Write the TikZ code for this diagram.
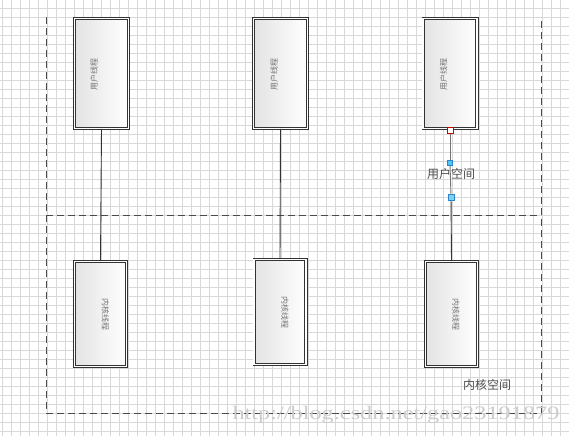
\documentclass[tikz,border=0pt]{standalone}
\usepackage{fontspec}
\setmainfont{Liberation Serif}
\newfontfamily\cjk{Noto Sans CJK SC}
\usetikzlibrary{shadows}
\definecolor{gridc}{HTML}{D8D8D8}
\definecolor{dashc}{HTML}{4A4A4A}
\definecolor{boxc}{HTML}{333333}
\definecolor{handlefill}{HTML}{7FD0F5}
\definecolor{handledraw}{HTML}{2A86CC}
\definecolor{smallfill}{HTML}{4CC6F2}
\pgfdeclarehorizontalshading{boxshade}{100bp}{color(0bp)=(black!11); color(25bp)=(black!11); color(75bp)=(white); color(100bp)=(white)}
\begin{document}
\begin{tikzpicture}[x=1pt,y=-1pt,
  gridline/.style={draw=gridc,line width=0.8pt},
  dashline/.style={draw=dashc,line width=0.95pt,dash pattern=on 7pt off 4pt},
  tbox/.style={draw=boxc,line width=0.9pt,double=white,double distance=1.4pt,
    shading=boxshade,shading angle=0,
    drop shadow={shadow xshift=1.6pt,shadow yshift=-1.6pt,fill=black!18},
    inner sep=0pt,minimum width=53.8pt,minimum height=109.8pt},
  kbox/.style={tbox,minimum width=51.8pt,minimum height=104.8pt},
  boxtext/.style={font=\cjk\fontsize{8}{8}\selectfont,text=black!55,inner sep=0pt},
  conn/.style={draw=boxc,line width=0.9pt},
  lbl/.style={font=\cjk\fontsize{12}{12}\selectfont,text=black!70,inner sep=0pt},
  handle/.style={rectangle,inner sep=0pt,line width=0.8pt},
  wm/.style={font=\fontsize{19}{19}\selectfont,text=black!20,inner sep=0pt,xscale=1.28}]
\useasboundingbox (0,0) rectangle (569,436);
\fill[white] (0,0) rectangle (569,436);
\foreach \x in {2,11,...,569} \draw[gridline] (\x,0) -- (\x,436);
\foreach \y in {8,17,...,436} \draw[gridline] (0,\y) -- (569,\y);
\draw[dashline] (46,17) -- (46,413) -- (541,413) -- (541,17);
\draw[dashline] (46,215) -- (541,215);
% boxes
\node[tbox] (b1) at (101.5,73.5) {};
\node[tbox] (b2) at (280.5,73.5) {};
\node[tbox] (b3) at (450,73.5) {};
\node[kbox] (b4) at (100.5,314) {};
\node[kbox] (b5) at (280,312) {};
\node[kbox] (b6) at (451.5,314) {};
\node[boxtext,rotate=90] (t1) at (94,74) {用户线程};
\node[boxtext,rotate=90] (t2) at (274,74) {用户线程};
\node[boxtext,rotate=90] (t3) at (443.5,74) {用户线程};
\node[boxtext,rotate=-90] (t4) at (105.3,314) {内核线程};
\node[boxtext,rotate=-90] (t5) at (285,312) {内核线程};
\node[boxtext,rotate=-90] (t6) at (456,314) {内核线程};
% connectors
\draw[conn] (b1.south) -- (b4.north);
\draw[conn] (b2.south) -- (b5.north);
\node[handle,minimum size=6pt] (h3) at (451,197) {};
\node[handle,minimum size=5pt] (h2) at (450,163) {};
\node[handle,minimum size=6pt] (h1) at (450,130) {};
\draw[conn,draw=black!55] (h1) -- (h2);
\draw[conn,draw=black!55] (h2) -- (h3);
\draw[conn] (h3) -- (b6.north);
\node[lbl] (us) at (451,174) {用户空间};
\node[handle,minimum size=6pt,fill=handlefill,draw=handledraw] at (h3) {};
\node[handle,minimum size=5pt,fill=smallfill,draw=handledraw] at (h2) {};
\node[handle,minimum size=6pt,fill=white,draw=red!80!black] at (h1) {};
\node[lbl] (ks) at (487,385) {内核空间};
\node[wm] (wm) at (396,415) {http://blog.csdn.net/gao23191879};
\end{tikzpicture}
\end{document}
